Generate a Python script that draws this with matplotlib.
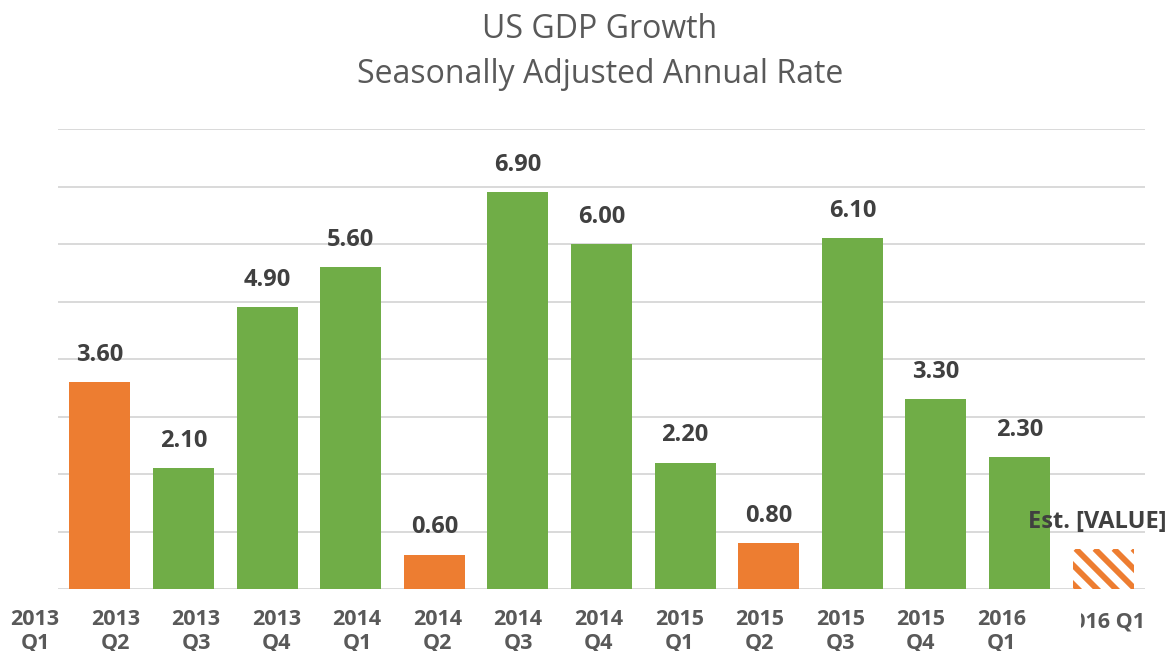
import matplotlib.pyplot as plt
import matplotlib.patches as mpatches
import numpy as np

plt.rcParams['font.family'] = ['Open Sans', 'DejaVu Sans']

# data
values = [3.6, 2.1, 4.9, 5.6, 0.6, 6.9, 6.0, 2.2, 0.8, 6.1, 3.3, 2.3]
bar_colors = ['#ED7D31', '#70AD47', '#70AD47', '#70AD47', '#ED7D31', '#70AD47',
              '#70AD47', '#70AD47', '#ED7D31', '#70AD47', '#70AD47', '#70AD47']
est_value = 0.7
est_label = 'Est. [VALUE]'
tick_labels = ['2013\nQ1', '2013\nQ2', '2013\nQ3', '2013\nQ4',
               '2014\nQ1', '2014\nQ2', '2014\nQ3', '2014\nQ4',
               '2015\nQ1', '2015\nQ2', '2015\nQ3', '2015\nQ4',
               '2016\nQ1']
last_label = '2016 Q1'

W, H = 1167, 651
ax_px = (58, 62, 1145 - 58, 522 - 62)  # left, bottom, width, height in pixels
fig = plt.figure(figsize=(W / 100, H / 100), dpi=100)
ax = fig.add_axes([ax_px[0] / W, ax_px[1] / H, ax_px[2] / W, ax_px[3] / H])

x = np.arange(len(values))
ax.bar(x, values, width=0.73, color=bar_colors, zorder=3)

ax.set_xlim(-0.5, len(values) + 0.5)
ax.set_ylim(0, 8)

# estimate bar: white with diagonal orange stripes
xe = len(values)
est = ax.bar(xe, est_value, width=0.73, color='white', linewidth=0, zorder=3)[0]
px_x = ax_px[2] / (len(values) + 1)   # pixels per x unit
px_y = ax_px[3] / 8                   # pixels per y unit
left, top = est.get_x(), est.get_height()
step, L = 19, 120
for k in range(-4, 6):
    xs = left + (3 + step * k) / px_x
    ln, = ax.plot([xs, xs + L / px_x], [top, top - L / px_y], color='#ED7D31',
                  lw=4.2, solid_capstyle='butt', zorder=4)
    ln.set_clip_path(est)

for xi, v in zip(x, values):
    ax.annotate(f'{v:.2f}', (xi, v), xytext=(0, 19.5), textcoords='offset points',
                ha='center', va='center', fontsize=17, fontweight='bold',
                color='#404040')
ax.annotate(est_label, (xe, est_value), xytext=(-4, 19.5), textcoords='offset points',
            ha='center', va='center', fontsize=17, fontweight='bold',
            color='#404040', annotation_clip=False)

ax.set_yticks(np.arange(0, 9, 1))
ax.yaxis.grid(True, color='#D9D9D9', linewidth=1.4, zorder=0)
ax.set_axisbelow(True)
ax.tick_params(left=False, labelleft=False, bottom=False, labelbottom=False)
for s in ax.spines.values():
    s.set_visible(False)

# category labels (evenly spaced, offset from the bars like in the original)
lab_start, lab_pitch = -0.775, 0.963
for i, lab in enumerate(tick_labels):
    ax.annotate(lab, (lab_start + i * lab_pitch, 0), xytext=(0, -14.5),
                textcoords='offset points', ha='center', va='top',
                fontsize=15.5, fontweight='bold', color='#595959',
                linespacing=1.12, annotation_clip=False)

t = fig.text(1145 / W, 1 - 622 / H, last_label, ha='right', va='center',
             fontsize=15.5, fontweight='bold', color='#595959')
clip = mpatches.Rectangle((1081 / W, 0), 1, 0.12, transform=fig.transFigure)
t.set_clip_path(clip)

fig.text(600 / W, 1 - 38 / H, 'US GDP Growth', ha='center', va='baseline',
         fontsize=23, color='#595959')
fig.text(600 / W, 1 - 83 / H, 'Seasonally Adjusted Annual Rate', ha='center',
         va='baseline', fontsize=23, color='#595959')

fig.savefig('out.png', dpi=100)
